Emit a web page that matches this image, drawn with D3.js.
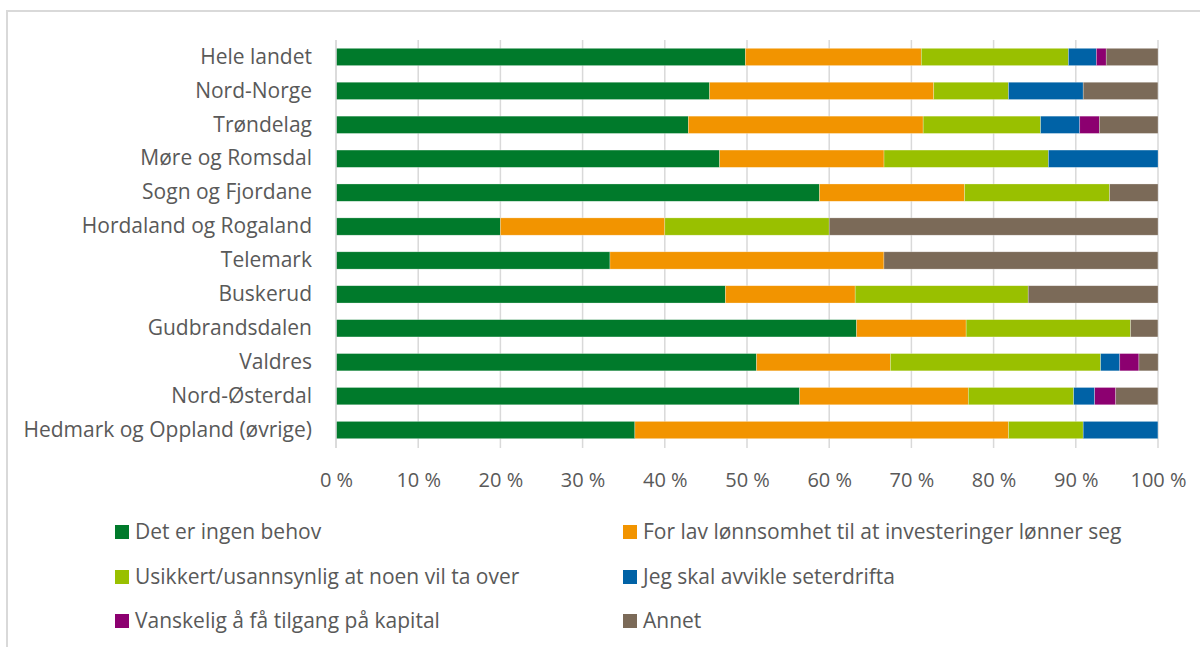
<!DOCTYPE html>
<html>
<head>
<meta charset="utf-8">
<script src="https://cdn.jsdelivr.net/npm/d3@7"></script>
<style>
  html, body { margin: 0; padding: 0; background: #fff; }
  svg { display: block; }
  text { font-family: "Open Sans", "Noto Sans", sans-serif; fill: #595959; }
</style>
</head>
<body>
<svg id="chart" width="1200" height="647"></svg>
<script>
// ---- Data ----
const categories = [
  "Hele landet", "Nord-Norge", "Trøndelag", "Møre og Romsdal", "Sogn og Fjordane",
  "Hordaland og Rogaland", "Telemark", "Buskerud", "Gudbrandsdalen", "Valdres",
  "Nord-Østerdal", "Hedmark og Oppland (øvrige)"
];
const seriesNames = [
  "Det er ingen behov",
  "For lav lønnsomhet til at investeringer lønner seg",
  "Usikkert/usannsynlig at noen vil ta over",
  "Jeg skal avvikle seterdrifta",
  "Vanskelig å få tilgang på kapital",
  "Annet"
];
// percentage shares per category (same order as categories)
const ingenBehov   = [49.8, 45.45, 42.86, 46.67, 58.82, 20, 33.33, 47.37, 63.33, 51.16, 56.41, 36.36];
const lavLonnsomhet= [21.4, 27.27, 28.57, 20.00, 17.65, 20, 33.33, 15.79, 13.33, 16.28, 20.51, 45.45];
const usikkert     = [17.9,  9.09, 14.29, 20.00, 17.65, 20,  0,    21.05, 20.00, 25.58, 12.82,  9.09];
const avvikle      = [ 3.4,  9.09,  4.76, 13.33,  0,     0,  0,     0,     0,     2.33,  2.56,  9.09];
const kapital      = [ 1.2,  0,     2.38,  0,     0,     0,  0,     0,     0,     2.33,  2.56,  0];
const annet        = [ 6.3,  9.09,  7.14,  0,     5.88, 40, 33.33, 15.79,  3.33,  2.33,  5.13,  0];
const xTicks = [0, 10, 20, 30, 40, 50, 60, 70, 80, 90, 100];
const colors = ["#007A2B", "#F29400", "#99C000", "#0062A6", "#8C0070", "#7B6A58"];

// ---- Build table ----
const seriesArrays = [ingenBehov, lavLonnsomhet, usikkert, avvikle, kapital, annet];
const rows = categories.map((c, i) => {
  const r = { cat: c };
  seriesNames.forEach((s, j) => r[s] = seriesArrays[j][i]);
  return r;
});

const svg = d3.select("#chart");

// chart border (top + left visible)
svg.append("rect")
  .attr("x", 7).attr("y", 11)
  .attr("width", 1300).attr("height", 700)
  .attr("fill", "none").attr("stroke", "#d9d9d9").attr("stroke-width", 2);

const plot = { left: 336, right: 1158, top: 40, bottom: 447 };

const x = d3.scaleLinear().domain([0, 100]).range([plot.left, plot.right]);
const y = d3.scaleBand().domain(categories).range([plot.top, plot.bottom]).paddingInner(0.49).paddingOuter(0.245);

// gridlines
svg.append("g").selectAll("line").data(xTicks).join("line")
  .attr("x1", d => x(d)).attr("x2", d => x(d))
  .attr("y1", plot.top).attr("y2", plot.bottom + 1)
  .attr("stroke", "#d9d9d9").attr("stroke-width", 1.5);

// stacked bars
const stack = d3.stack().keys(seriesNames);
const stacked = stack(rows);

svg.append("g").selectAll("g").data(stacked).join("g")
  .attr("fill", (d, i) => colors[i])
  .selectAll("rect").data(d => d.filter(p => p[1] - p[0] > 0)).join("rect")
  .attr("x", d => x(d[0]))
  .attr("width", d => x(d[1]) - x(d[0]))
  .attr("y", d => y(d.data.cat))
  .attr("height", y.bandwidth())
  .attr("stroke", "#ffffff").attr("stroke-opacity", 0.45).attr("stroke-width", 0.6);

// vertical axis line
svg.append("line")
  .attr("x1", plot.left).attr("x2", plot.left)
  .attr("y1", plot.top).attr("y2", plot.bottom + 1)
  .attr("stroke", "#d9d9d9").attr("stroke-width", 1.5);

// y axis labels
const yAxis = d3.axisLeft(y).tickSize(0).tickPadding(24);
const gy = svg.append("g").attr("transform", `translate(${plot.left},0)`).call(yAxis);
gy.select(".domain").remove();
gy.selectAll("text").style("font-size", "21px").attr("fill", "#595959")
  .style("font-family", '"Open Sans", sans-serif');

// x axis labels
const xAxis = d3.axisBottom(x).tickValues(xTicks).tickFormat(d => d + " %").tickSize(0).tickPadding(26);
const gx = svg.append("g").attr("transform", `translate(0,${plot.bottom})`).call(xAxis);
gx.select(".domain").remove();
gx.selectAll("text").style("font-size", "20px").attr("fill", "#595959")
  .style("font-family", '"Open Sans", sans-serif');

// legend
const legendCols = [115, 623];
const legendRows = [532, 577, 621];
const lg = svg.append("g").selectAll("g").data(seriesNames).join("g")
  .attr("transform", (d, i) => `translate(${legendCols[i % 2]},${legendRows[Math.floor(i / 2)]})`);
lg.append("rect").attr("x", 0).attr("y", -7).attr("width", 14).attr("height", 14)
  .attr("fill", (d, i) => colors[i]);
lg.append("text").attr("x", 20).attr("y", 0).attr("dy", "0.35em")
  .style("font-size", "21px").text(d => d);
</script>
</body>
</html>
